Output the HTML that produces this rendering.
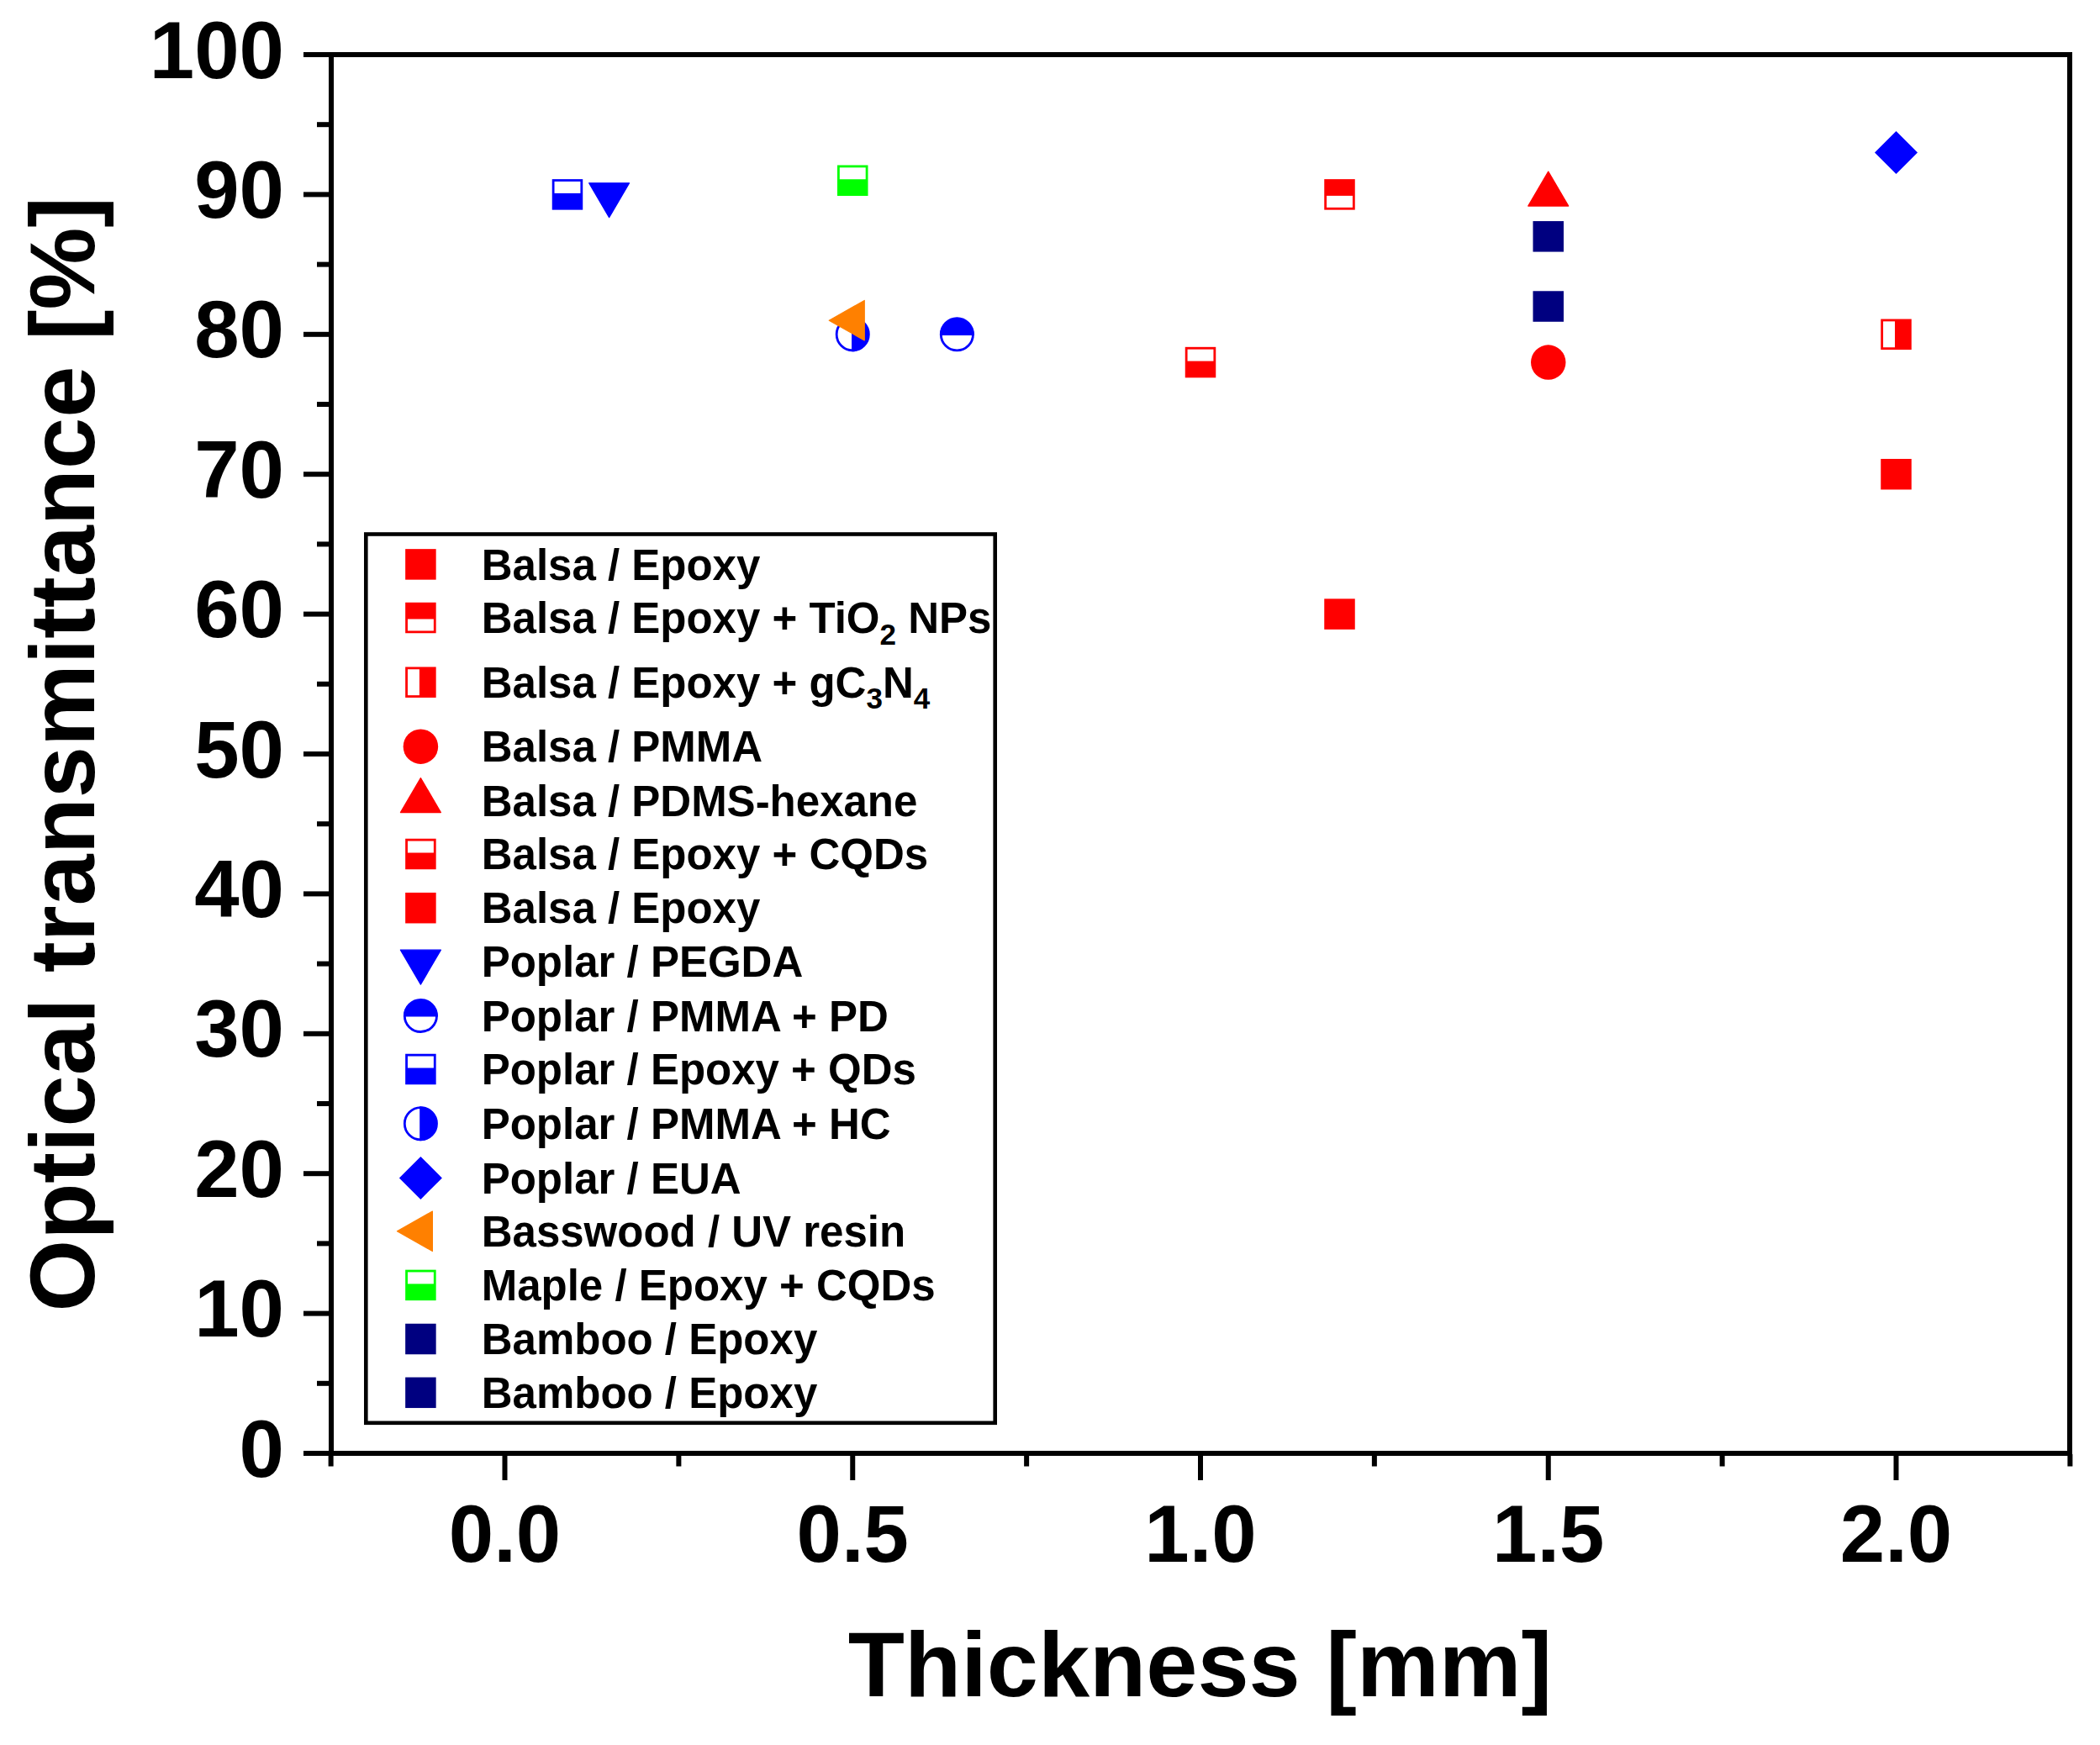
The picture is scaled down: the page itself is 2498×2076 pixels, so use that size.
<!DOCTYPE html>
<html><head><meta charset="utf-8"><title>Optical transmittance vs thickness</title>
<style>html,body{margin:0;padding:0;background:#fff;}body{width:2498px;height:2076px;overflow:hidden;}svg{display:block;}</style>
</head><body>
<svg width="2498" height="2076" viewBox="0 0 2498 2076"><g fill="#000">
<rect x="361" y="62" width="2104" height="6"/>
<rect x="361" y="1726" width="2104" height="6"/>
<rect x="391" y="62" width="6" height="1670"/>
<rect x="2459" y="62" width="6" height="1670"/>
<rect x="377" y="1642.80" width="16" height="6"/>
<rect x="361" y="1559.60" width="32" height="6"/>
<rect x="377" y="1476.40" width="16" height="6"/>
<rect x="361" y="1393.20" width="32" height="6"/>
<rect x="377" y="1310.00" width="16" height="6"/>
<rect x="361" y="1226.80" width="32" height="6"/>
<rect x="377" y="1143.60" width="16" height="6"/>
<rect x="361" y="1060.40" width="32" height="6"/>
<rect x="377" y="977.20" width="16" height="6"/>
<rect x="361" y="894.00" width="32" height="6"/>
<rect x="377" y="810.80" width="16" height="6"/>
<rect x="361" y="727.60" width="32" height="6"/>
<rect x="377" y="644.40" width="16" height="6"/>
<rect x="361" y="561.20" width="32" height="6"/>
<rect x="377" y="478.00" width="16" height="6"/>
<rect x="361" y="394.80" width="32" height="6"/>
<rect x="377" y="311.60" width="16" height="6"/>
<rect x="361" y="228.40" width="32" height="6"/>
<rect x="377" y="145.20" width="16" height="6"/>
<rect x="390.62" y="1730" width="6" height="14.5"/>
<rect x="597.50" y="1730" width="6" height="31"/>
<rect x="804.38" y="1730" width="6" height="14.5"/>
<rect x="1011.25" y="1730" width="6" height="31"/>
<rect x="1218.12" y="1730" width="6" height="14.5"/>
<rect x="1425.00" y="1730" width="6" height="31"/>
<rect x="1631.88" y="1730" width="6" height="14.5"/>
<rect x="1838.75" y="1730" width="6" height="31"/>
<rect x="2045.62" y="1730" width="6" height="14.5"/>
<rect x="2252.50" y="1730" width="6" height="31"/>
<rect x="2459.38" y="1730" width="6" height="14.5"/>
</g>
<g font-family="'Liberation Sans', Arial, sans-serif" font-weight="bold" fill="#000">
<text x="338" y="1756.50" font-size="96" text-anchor="end">0</text>
<text x="338" y="1590.10" font-size="96" text-anchor="end">10</text>
<text x="338" y="1423.70" font-size="96" text-anchor="end">20</text>
<text x="338" y="1257.30" font-size="96" text-anchor="end">30</text>
<text x="338" y="1090.90" font-size="96" text-anchor="end">40</text>
<text x="338" y="924.50" font-size="96" text-anchor="end">50</text>
<text x="338" y="758.10" font-size="96" text-anchor="end">60</text>
<text x="338" y="591.70" font-size="96" text-anchor="end">70</text>
<text x="338" y="425.30" font-size="96" text-anchor="end">80</text>
<text x="338" y="258.90" font-size="96" text-anchor="end">90</text>
<text x="338" y="92.50" font-size="96" text-anchor="end">100</text>
<text x="600.50" y="1857.7" font-size="96" text-anchor="middle">0.0</text>
<text x="1014.25" y="1857.7" font-size="96" text-anchor="middle">0.5</text>
<text x="1428.00" y="1857.7" font-size="96" text-anchor="middle">1.0</text>
<text x="1841.75" y="1857.7" font-size="96" text-anchor="middle">1.5</text>
<text x="2255.50" y="1857.7" font-size="96" text-anchor="middle">2.0</text>
<text x="1427.5" y="2018" font-size="110" text-anchor="middle">Thickness [mm]</text>
<text transform="translate(112,897.2) rotate(-90)" x="0" y="0" font-size="110" text-anchor="middle">Optical transmittance [%]</text>
</g>
<rect x="656.73" y="213.15" width="36.50" height="36.50" fill="#0000FF"/><rect x="659.52" y="215.95" width="30.90" height="13.95" fill="#fff"/>
<path d="M700.62,217.73 L748.62,217.73 L724.62,258.73 Z" fill="#0000FF" stroke="#0000FF" stroke-width="1.2" stroke-linejoin="round"/>
<rect x="996.00" y="196.51" width="36.50" height="36.50" fill="#00FF00"/><rect x="998.80" y="199.31" width="30.90" height="13.95" fill="#fff"/>
<circle cx="1014.25" cy="397.80" r="19.10" fill="#fff"/><path d="M1013.05,377.30 A20.50,20.50 0 0 1 1013.05,418.30 Z" fill="#0000FF"/><circle cx="1014.25" cy="397.80" r="19.10" fill="none" stroke="#0000FF" stroke-width="2.8"/>
<path d="M986.25,381.16 L1028.25,357.41 L1028.25,404.91 Z" fill="#FF8000" stroke="#FF8000" stroke-width="1.2" stroke-linejoin="round"/>
<circle cx="1138.38" cy="397.80" r="19.10" fill="#fff"/><path d="M1117.88,399.00 A20.50,20.50 0 0 1 1158.88,399.00 Z" fill="#0000FF"/><circle cx="1138.38" cy="397.80" r="19.10" fill="none" stroke="#0000FF" stroke-width="2.8"/>
<rect x="1409.75" y="412.83" width="36.50" height="36.50" fill="#FF0000"/><rect x="1412.55" y="415.63" width="30.90" height="13.95" fill="#fff"/>
<rect x="1575.25" y="213.15" width="36.50" height="36.50" fill="#FF0000"/><rect x="1578.05" y="232.90" width="30.90" height="13.95" fill="#fff"/>
<rect x="1575.25" y="712.35" width="36.50" height="36.50" fill="#FF0000"/>
<path d="M1841.75,204.07 L1865.75,245.07 L1817.75,245.07 Z" fill="#FF0000" stroke="#FF0000" stroke-width="1.2" stroke-linejoin="round"/>
<rect x="1823.50" y="263.07" width="36.50" height="36.50" fill="#000080"/>
<rect x="1823.50" y="346.27" width="36.50" height="36.50" fill="#000080"/>
<circle cx="1841.75" cy="431.08" r="20.75" fill="#FF0000"/>
<path d="M2255.50,155.98 L2281.00,181.48 L2255.50,206.98 L2230.00,181.48 Z" fill="#0000FF"/>
<rect x="2237.25" y="379.55" width="36.50" height="36.50" fill="#FF0000"/><rect x="2240.05" y="382.35" width="13.95" height="30.90" fill="#fff"/>
<rect x="2237.25" y="545.95" width="36.50" height="36.50" fill="#FF0000"/>
<rect x="435.3" y="635.5" width="748.4" height="1057.3" fill="#fff" stroke="#000" stroke-width="4.6"/>
<g font-family="'Liberation Sans', Arial, sans-serif" font-weight="bold" font-size="51" fill="#000">
<rect x="482.15" y="653.15" width="36.50" height="36.50" fill="#FF0000"/>
<text x="572.7" y="689.60">Balsa / Epoxy</text>
<rect x="482.15" y="716.75" width="36.50" height="36.50" fill="#FF0000"/><rect x="484.95" y="736.50" width="30.90" height="13.95" fill="#fff"/>
<text x="572.7" y="753.20">Balsa / Epoxy + TiO<tspan font-size="35" dy="13.5">2</tspan><tspan dy="-13.5"> NPs</tspan></text>
<rect x="482.15" y="793.45" width="36.50" height="36.50" fill="#FF0000"/><rect x="484.95" y="796.25" width="13.95" height="30.90" fill="#fff"/>
<text x="572.7" y="829.90">Balsa / Epoxy + gC<tspan font-size="35" dy="13.5">3</tspan><tspan dy="-13.5">N</tspan><tspan font-size="35" dy="13.5">4</tspan></text>
<circle cx="500.40" cy="888.20" r="20.75" fill="#FF0000"/>
<text x="572.7" y="906.40">Balsa / PMMA</text>
<path d="M500.40,925.57 L524.40,966.57 L476.40,966.57 Z" fill="#FF0000" stroke="#FF0000" stroke-width="1.2" stroke-linejoin="round"/>
<text x="572.7" y="971.10">Balsa / PDMS-hexane</text>
<rect x="482.15" y="997.75" width="36.50" height="36.50" fill="#FF0000"/><rect x="484.95" y="1000.55" width="30.90" height="13.95" fill="#fff"/>
<text x="572.7" y="1034.20">Balsa / Epoxy + CQDs</text>
<rect x="482.15" y="1061.95" width="36.50" height="36.50" fill="#FF0000"/>
<text x="572.7" y="1098.40">Balsa / Epoxy</text>
<path d="M476.40,1130.13 L524.40,1130.13 L500.40,1171.13 Z" fill="#0000FF" stroke="#0000FF" stroke-width="1.2" stroke-linejoin="round"/>
<text x="572.7" y="1162.00">Poplar / PEGDA</text>
<circle cx="500.40" cy="1208.40" r="19.10" fill="#fff"/><path d="M479.90,1209.60 A20.50,20.50 0 0 1 520.90,1209.60 Z" fill="#0000FF"/><circle cx="500.40" cy="1208.40" r="19.10" fill="none" stroke="#0000FF" stroke-width="2.8"/>
<text x="572.7" y="1226.60">Poplar / PMMA + PD</text>
<rect x="482.15" y="1253.75" width="36.50" height="36.50" fill="#0000FF"/><rect x="484.95" y="1256.55" width="30.90" height="13.95" fill="#fff"/>
<text x="572.7" y="1290.20">Poplar / Epoxy + QDs</text>
<circle cx="500.40" cy="1336.70" r="19.10" fill="#fff"/><path d="M499.20,1316.20 A20.50,20.50 0 0 1 499.20,1357.20 Z" fill="#0000FF"/><circle cx="500.40" cy="1336.70" r="19.10" fill="none" stroke="#0000FF" stroke-width="2.8"/>
<text x="572.7" y="1354.90">Poplar / PMMA + HC</text>
<path d="M500.40,1375.90 L525.90,1401.40 L500.40,1426.90 L474.90,1401.40 Z" fill="#0000FF"/>
<text x="572.7" y="1419.60">Poplar / EUA</text>
<path d="M472.40,1464.80 L514.40,1441.05 L514.40,1488.55 Z" fill="#FF8000" stroke="#FF8000" stroke-width="1.2" stroke-linejoin="round"/>
<text x="572.7" y="1483.00">Basswood / UV resin</text>
<rect x="482.15" y="1510.65" width="36.50" height="36.50" fill="#00FF00"/><rect x="484.95" y="1513.45" width="30.90" height="13.95" fill="#fff"/>
<text x="572.7" y="1547.10">Maple / Epoxy + CQDs</text>
<rect x="482.15" y="1574.75" width="36.50" height="36.50" fill="#000080"/>
<text x="572.7" y="1611.20">Bamboo / Epoxy</text>
<rect x="482.15" y="1638.55" width="36.50" height="36.50" fill="#000080"/>
<text x="572.7" y="1675.00">Bamboo / Epoxy</text>
</g></svg>
</body></html>
